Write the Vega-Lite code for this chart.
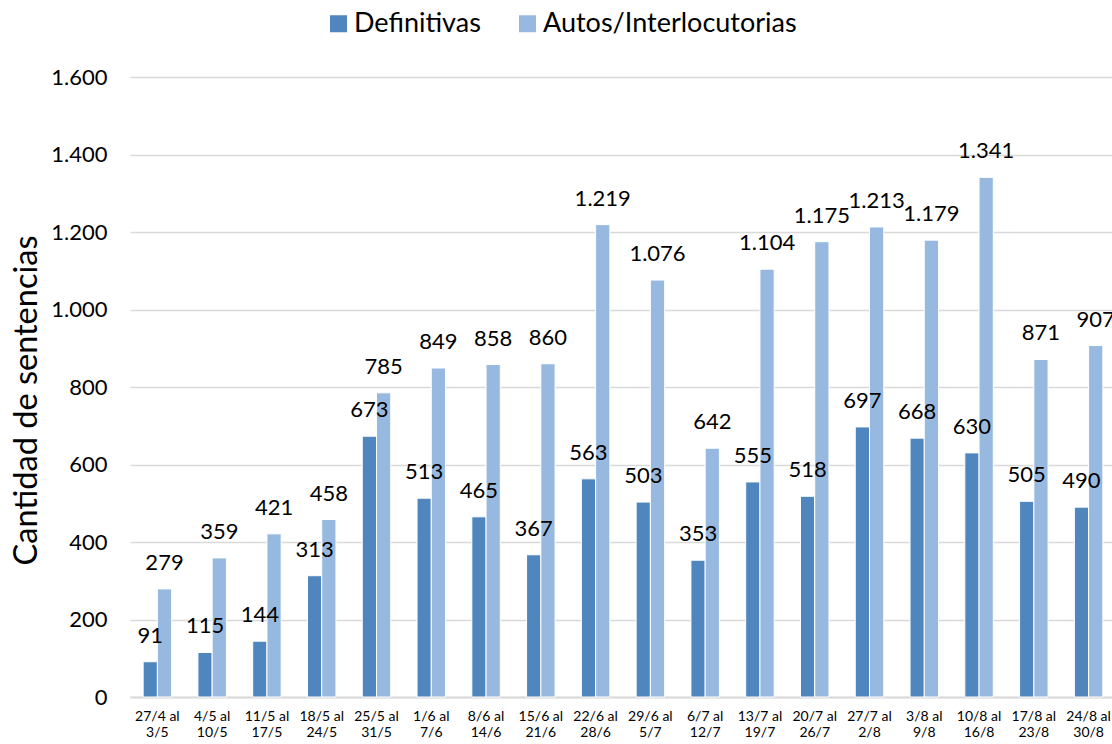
{
  "$schema": "https://vega.github.io/schema/vega-lite/v6.json",
  "autosize": {"type": "none"},
  "padding": {"left": 130, "top": 77, "right": 0, "bottom": 47},
  "width": 986,
  "height": 620,
  "background": "white",
  "config": {
    "font": "Lato",
    "view": {"stroke": null},
    "locale": {"number": {"decimal": ",", "thousands": ".", "grouping": [3], "currency": ["", ""]}}
  },
  "data": {
    "values": [
      {"semana": "27/4 al 3/5", "tipo": "Definitivas", "cantidad": 91},
      {"semana": "4/5 al 10/5", "tipo": "Definitivas", "cantidad": 115},
      {"semana": "11/5 al 17/5", "tipo": "Definitivas", "cantidad": 144},
      {"semana": "18/5 al 24/5", "tipo": "Definitivas", "cantidad": 313},
      {"semana": "25/5 al 31/5", "tipo": "Definitivas", "cantidad": 673},
      {"semana": "1/6 al 7/6", "tipo": "Definitivas", "cantidad": 513},
      {"semana": "8/6 al 14/6", "tipo": "Definitivas", "cantidad": 465},
      {"semana": "15/6 al 21/6", "tipo": "Definitivas", "cantidad": 367},
      {"semana": "22/6 al 28/6", "tipo": "Definitivas", "cantidad": 563},
      {"semana": "29/6 al 5/7", "tipo": "Definitivas", "cantidad": 503},
      {"semana": "6/7 al 12/7", "tipo": "Definitivas", "cantidad": 353},
      {"semana": "13/7 al 19/7", "tipo": "Definitivas", "cantidad": 555},
      {"semana": "20/7 al 26/7", "tipo": "Definitivas", "cantidad": 518},
      {"semana": "27/7 al 2/8", "tipo": "Definitivas", "cantidad": 697},
      {"semana": "3/8 al 9/8", "tipo": "Definitivas", "cantidad": 668},
      {"semana": "10/8 al 16/8", "tipo": "Definitivas", "cantidad": 630},
      {"semana": "17/8 al 23/8", "tipo": "Definitivas", "cantidad": 505},
      {"semana": "24/8 al 30/8", "tipo": "Definitivas", "cantidad": 490},
      {"semana": "27/4 al 3/5", "tipo": "Autos/Interlocutorias", "cantidad": 279},
      {"semana": "4/5 al 10/5", "tipo": "Autos/Interlocutorias", "cantidad": 359},
      {"semana": "11/5 al 17/5", "tipo": "Autos/Interlocutorias", "cantidad": 421},
      {"semana": "18/5 al 24/5", "tipo": "Autos/Interlocutorias", "cantidad": 458},
      {"semana": "25/5 al 31/5", "tipo": "Autos/Interlocutorias", "cantidad": 785},
      {"semana": "1/6 al 7/6", "tipo": "Autos/Interlocutorias", "cantidad": 849},
      {"semana": "8/6 al 14/6", "tipo": "Autos/Interlocutorias", "cantidad": 858},
      {"semana": "15/6 al 21/6", "tipo": "Autos/Interlocutorias", "cantidad": 860},
      {"semana": "22/6 al 28/6", "tipo": "Autos/Interlocutorias", "cantidad": 1219},
      {"semana": "29/6 al 5/7", "tipo": "Autos/Interlocutorias", "cantidad": 1076},
      {"semana": "6/7 al 12/7", "tipo": "Autos/Interlocutorias", "cantidad": 642},
      {"semana": "13/7 al 19/7", "tipo": "Autos/Interlocutorias", "cantidad": 1104},
      {"semana": "20/7 al 26/7", "tipo": "Autos/Interlocutorias", "cantidad": 1175},
      {"semana": "27/7 al 2/8", "tipo": "Autos/Interlocutorias", "cantidad": 1213},
      {"semana": "3/8 al 9/8", "tipo": "Autos/Interlocutorias", "cantidad": 1179},
      {"semana": "10/8 al 16/8", "tipo": "Autos/Interlocutorias", "cantidad": 1341},
      {"semana": "17/8 al 23/8", "tipo": "Autos/Interlocutorias", "cantidad": 871},
      {"semana": "24/8 al 30/8", "tipo": "Autos/Interlocutorias", "cantidad": 907}
    ]
  },
  "encoding": {
    "x": {
      "field": "semana",
      "type": "nominal",
      "sort": null,
      "scale": {"paddingInner": 0.48, "paddingOuter": 0.24},
      "axis": {
        "title": null,
        "labelAngle": 0,
        "labelFontSize": 14,
        "labelColor": "#000000",
        "labelPadding": 12,
        "labelLineHeight": 16,
        "labelExpr": "[split(datum.value, ' al ')[0] + ' al', split(datum.value, ' al ')[1]]",
        "ticks": false,
        "domainColor": "#d9d9d9",
        "domainWidth": 2,
        "grid": false
      }
    },
    "xOffset": {
      "field": "tipo",
      "type": "nominal",
      "sort": ["Definitivas", "Autos/Interlocutorias"],
      "scale": {"paddingInner": 0, "paddingOuter": 0}
    },
    "y": {
      "field": "cantidad",
      "type": "quantitative",
      "scale": {"domain": [0, 1600], "nice": false},
      "axis": {
        "title": "Cantidad de sentencias",
        "titleFontSize": 32.5,
        "titleFontWeight": "normal",
        "titleColor": "#000000",
        "titlePadding": 7,
        "titleY": 323,
        "values": [0, 200, 400, 600, 800, 1000, 1200, 1400, 1600],
        "format": ",d",
        "labelFontSize": 22,
        "labelColor": "#000000",
        "labelPadding": 23,
        "ticks": false,
        "domain": false,
        "gridColor": "#d9d9d9",
        "gridWidth": 1.5
      }
    }
  },
  "layer": [
    {
      "mark": {"type": "bar", "stroke": "white", "strokeWidth": 1},
      "encoding": {
        "color": {
          "field": "tipo",
          "type": "nominal",
          "scale": {"domain": ["Definitivas", "Autos/Interlocutorias"], "range": ["#4E86BD", "#97B9E0"]},
          "legend": {
            "title": null,
            "orient": "none",
            "direction": "horizontal",
            "legendX": 195,
            "legendY": -67,
            "symbolType": "square",
            "symbolSize": 289,
            "symbolStrokeWidth": 0,
            "labelFontSize": 27,
            "labelLimit": 400,
            "labelColor": "#000000",
            "labelOffset": 2,
            "columnPadding": 33
          }
        }
      }
    },
    {
      "mark": {"type": "text", "baseline": "middle", "align": "center", "dy": -26, "fontSize": 22, "color": "#000000"},
      "encoding": {
        "text": {"field": "cantidad", "type": "quantitative", "format": ",d"}
      }
    }
  ]
}
